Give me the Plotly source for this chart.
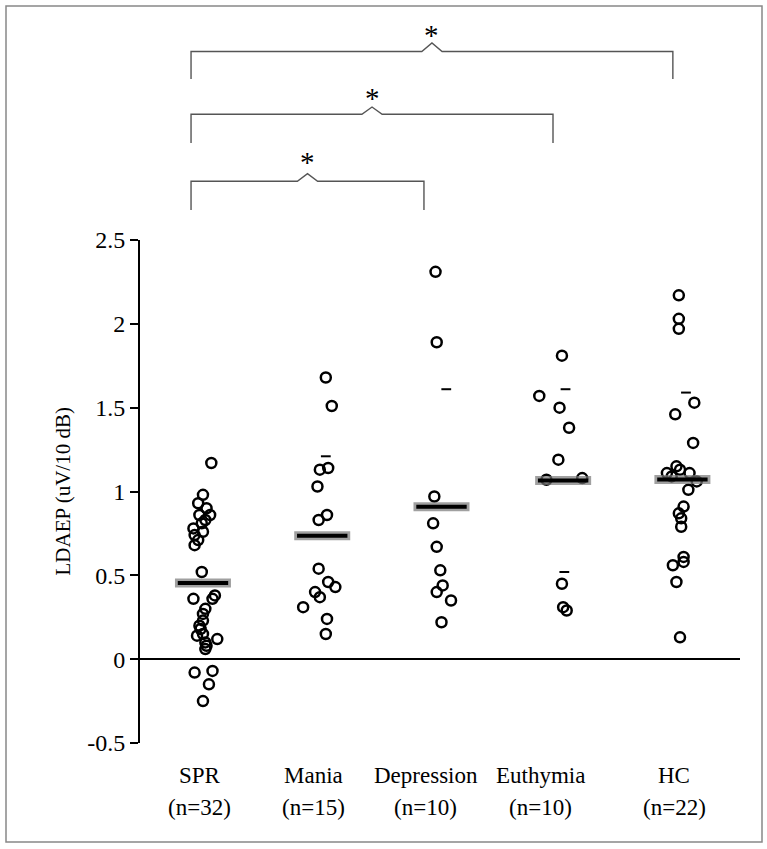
import plotly.graph_objects as go

# ---------------- data ----------------
groups = ["SPR", "Mania", "Depression", "Euthymia", "HC"]
n_labels = ["(n=32)", "(n=15)", "(n=10)", "(n=10)", "(n=22)"]

spr = [1.17, 0.98, 0.93, 0.90, 0.86, 0.86, 0.83, 0.81, 0.78, 0.76, 0.74, 0.71, 0.68, 0.52,
       0.38, 0.36, 0.36, 0.30, 0.27, 0.23, 0.20, 0.18, 0.15, 0.14, 0.12, 0.10, 0.08, 0.06,
       -0.07, -0.08, -0.15, -0.25]
spr_jit = [0.07, 0.0, -0.04, 0.03, 0.06, -0.03, 0.02, -0.01, -0.08, 0.0, -0.07, -0.04, -0.07, -0.01,
           0.10, -0.08, 0.08, 0.02, 0.0, 0.0, -0.03, -0.02, 0.0, -0.05, 0.12, 0.02, 0.03, 0.02,
           0.08, -0.07, 0.05, 0.0]

mania = [1.68, 1.51, 1.14, 1.13, 1.03, 0.86, 0.83, 0.54, 0.46, 0.43, 0.40, 0.37, 0.31, 0.24, 0.15]
mania_jit = [0.03, 0.08, 0.05, -0.02, -0.04, 0.04, -0.03, -0.03, 0.05, 0.11, -0.06, -0.02, -0.16, 0.04, 0.03]

depression = [2.31, 1.89, 0.97, 0.81, 0.67, 0.53, 0.44, 0.40, 0.35, 0.22]
depression_jit = [-0.05, -0.04, -0.06, -0.07, -0.04, -0.01, 0.01, -0.04, 0.08, 0.0]

euthymia = [1.81, 1.57, 1.50, 1.38, 1.19, 1.08, 1.07, 0.45, 0.31, 0.29]
euthymia_jit = [0.01, -0.18, -0.01, 0.07, -0.02, 0.18, -0.12, 0.01, 0.02, 0.05]

hc = [2.17, 2.03, 1.97, 1.53, 1.46, 1.29, 1.15, 1.13, 1.11, 1.11, 1.06, 1.09, 1.01, 0.91,
      0.87, 0.84, 0.79, 0.61, 0.58, 0.56, 0.46, 0.13]
hc_jit = [-0.01, -0.01, -0.01, 0.12, -0.04, 0.11, -0.03, 0.0, -0.11, 0.08, 0.14, -0.07, 0.07, 0.03,
          -0.01, 0.01, 0.01, 0.03, 0.03, -0.06, -0.03, 0.0]

medians = [0.455, 0.736, 0.909, 1.065, 1.072]
median_jit = [0.0, 0.0, 0.0, 0.02, 0.02]

# small dash marks (group index, value, offset)
dash_group = [2, 3, 4, 4, 5]
dash_value = [1.21, 1.61, 1.61, 0.52, 1.59]
dash_jit = [0.03, 0.04, 0.04, 0.03, 0.05]

# significance brackets: (left group pos, right group pos)
brackets = [(0.90, 2.853), (0.90, 3.935), (0.90, 4.94)]
bracket_labels = ["*", "*", "*"]

yticks = [-0.5, 0, 0.5, 1, 1.5, 2, 2.5]
yticktext = ["-0.5", "0", "0.5", "1", "1.5", "2", "2.5"]

# ---------------- layout constants ----------------
label_pos = [0.975, 1.925, 2.866, 3.834, 4.950]  # x positions of category captions

FONT = "Liberation Serif"
fig = go.Figure()

series = [spr, mania, depression, euthymia, hc]
jits = [spr_jit, mania_jit, depression_jit, euthymia_jit, hc_jit]
for i, (vals, jit) in enumerate(zip(series, jits)):
    fig.add_trace(go.Scatter(
        x=[i + 1 + j for j in jit], y=vals, mode="markers",
        marker=dict(symbol="circle-open", size=10, color="black", line=dict(width=2.5, color="black")),
        showlegend=False, hoverinfo="skip"))

mx = [i + 1 + j for i, j in enumerate(median_jit)]
fig.add_trace(go.Scatter(x=mx, y=medians, mode="markers",
                         marker=dict(symbol="line-ew", size=40, line=dict(width=9, color="rgba(120,120,120,0.7)")),
                         showlegend=False, hoverinfo="skip"))
fig.add_trace(go.Scatter(x=mx, y=medians, mode="markers",
                         marker=dict(symbol="line-ew", size=36, line=dict(width=4, color="black")),
                         showlegend=False, hoverinfo="skip"))

fig.add_trace(go.Scatter(x=[g + j for g, j in zip(dash_group, dash_jit)], y=dash_value, mode="markers",
                         marker=dict(symbol="line-ew", size=7, line=dict(width=2, color="black")),
                         showlegend=False, hoverinfo="skip"))

# brackets (paper y above the plot area)
PH = 503.0  # plot height in px
def py(px):
    return (743 - px) / PH

bracket_geom = [  # (horizontal y px, vertical bottom px, peak px, star px)
    (181.3, 210, 173.7, 162),
    (114.3, 143, 107.0, 98),
    (51.5, 79, 43.0, 35),
]
for (xl, xr), (hy, vy, pk, st), lab in zip(brackets, bracket_geom, bracket_labels):
    xm = (xl + xr) / 2
    hw = 0.085
    path = (f"M {xl},{py(vy)} L {xl},{py(hy)} L {xm - hw},{py(hy)} L {xm},{py(pk)} "
            f"L {xm + hw},{py(hy)} L {xr},{py(hy)} L {xr},{py(vy)}")
    fig.add_shape(type="path", path=path, xref="x", yref="paper",
                  line=dict(color="#555555", width=1.4))
    fig.add_annotation(x=xm, y=py(st), xref="x", yref="paper", text=lab, showarrow=False,
                       font=dict(family=FONT, size=29, color="#000000"), yanchor="middle")

# category labels
for xp, g, n in zip(label_pos, groups, n_labels):
    fig.add_annotation(x=xp, y=py(775), xref="x", yref="paper", text=g, showarrow=False,
                       font=dict(family=FONT, size=23, color="black"), yanchor="middle")
    fig.add_annotation(x=xp, y=py(807), xref="x", yref="paper", text=n, showarrow=False,
                       font=dict(family=FONT, size=23, color="black"), yanchor="middle")

# y title
fig.add_annotation(x=(48 - 140) / 600, y=0.5, xref="paper", yref="paper", text="LDAEP (uV/10 dB)",
                   textangle=-90, showarrow=False, font=dict(family=FONT, size=21, color="black"))

# outer frame
fig.add_shape(type="rect", xref="paper", yref="paper",
              x0=(6 - 140) / 600, x1=(762 - 140) / 600, y0=py(842), y1=py(6),
              line=dict(color="#888888", width=1.5))

fig.update_layout(
    width=767, height=849, autosize=False,
    margin=dict(l=140, r=27, t=240, b=106),
    paper_bgcolor="white", plot_bgcolor="white",
    font=dict(family=FONT, size=23, color="black"),
    xaxis=dict(range=[0.472, 5.503], showticklabels=False, showline=False, showgrid=False,
               zeroline=False, ticks=""),
    yaxis=dict(range=[-0.5, 2.5], tickvals=yticks, ticktext=yticktext, showgrid=False,
               showline=True, linecolor="black", linewidth=2, ticks="outside", ticklen=8,
               tickwidth=2, tickcolor="black", zeroline=True, zerolinecolor="black",
               zerolinewidth=2, tickfont=dict(family=FONT, size=24, color="black")),
)

fig.write_html("out.html", config={"displayModeBar": False},
               post_script="document.body.style.margin='0px';document.body.style.overflow='hidden';")
